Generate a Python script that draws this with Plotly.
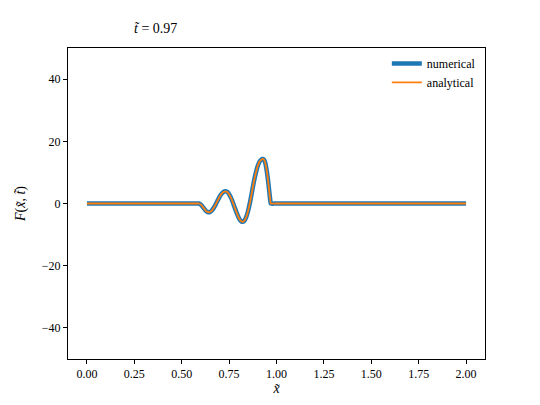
import plotly.graph_objects as go

# position x~ and field F at t~ = 0.97
x_vals = [0.00, 0.50, 0.58, 0.59, 0.60, 0.61, 0.62, 0.63, 0.64, 0.65, 0.66, 0.67,
          0.68, 0.69, 0.70, 0.71, 0.72, 0.73, 0.74, 0.75, 0.76, 0.77, 0.78, 0.79,
          0.80, 0.81, 0.82, 0.83, 0.84, 0.85, 0.86, 0.87, 0.88, 0.89, 0.90, 0.91,
          0.92, 0.925, 0.93, 0.935, 0.94, 0.945, 0.95, 0.955, 0.96, 0.965, 0.968,
          0.97, 1.00, 1.50, 2.00]
f_numerical = [0.0, 0.0, 0.0, 0.0, -0.3, -1.0, -1.8, -2.5, -2.8, -2.7, -2.2, -1.3,
               -0.2, 1.0, 2.2, 3.1, 3.7, 3.9, 3.7, 3.0, 1.8, 0.3, -1.4, -3.0,
               -4.5, -5.5, -5.9, -5.6, -4.4, -2.4, 0.3, 3.5, 6.8, 9.6, 11.9, 13.4,
               14.1, 14.3, 14.3, 14.0, 13.2, 11.8, 9.9, 7.6, 4.9, 2.1, 0.6,
               0.0, 0.0, 0.0, 0.0]
f_analytical = list(f_numerical)

x_ticks = [0.0, 0.25, 0.5, 0.75, 1.0, 1.25, 1.5, 1.75, 2.0]
x_ticktext = ["0.00", "0.25", "0.50", "0.75", "1.00", "1.25", "1.50", "1.75", "2.00"]
y_ticks = [-40, -20, 0, 20, 40]
y_ticktext = ["\u221240", "\u221220", "0", "20", "40"]

FONT = "Liberation Serif"

fig = go.Figure()
fig.add_trace(go.Scatter(x=x_vals, y=f_numerical, mode="lines", name="numerical",
                         line=dict(color="#1f77b4", width=4.5, shape="spline", smoothing=0.6)))
fig.add_trace(go.Scatter(x=x_vals, y=f_analytical, mode="lines", name="analytical",
                         line=dict(color="#ff7f0e", width=1.8, shape="spline", smoothing=0.6)))

axis_common = dict(showgrid=False, zeroline=False, showline=True, linecolor="black",
                   linewidth=1, mirror=True, ticks="outside", ticklen=4, automargin=False,
                   tickcolor="black", tickfont=dict(family=FONT, size=12, color="black"))

fig.update_xaxes(range=[-0.1, 2.1], tickvals=x_ticks, ticktext=x_ticktext,
                 title=dict(text="<i>x\u0303</i>", font=dict(family=FONT, size=14, color="black"),
                            standoff=0),
                 **axis_common)
fig.update_yaxes(range=[-50, 50], tickvals=y_ticks, ticktext=y_ticktext,
                 title=dict(text="<i>F</i>(<i>x\u0303</i>, <i>t\u0303</i>)",
                            font=dict(family=FONT, size=14, color="black"), standoff=12),
                 **axis_common)

fig.add_annotation(text="<i>t\u0303</i> = 0.97", xref="paper", yref="paper",
                   x=0.21, y=1.0, yshift=20, showarrow=False, xanchor="center", yanchor="middle",
                   font=dict(family=FONT, size=14, color="black"))

# page body adds 8px around the figure, so the figure is 16px smaller than the window
fig.update_layout(
    width=524, height=389,
    margin=dict(l=60, r=47, t=40, b=38),
    plot_bgcolor="white", paper_bgcolor="white",
    font=dict(family=FONT, color="black"),
    legend=dict(x=0.99, y=0.997, xanchor="right", yanchor="top",
                bgcolor="rgba(255,255,255,0.8)", borderwidth=0,
                font=dict(family=FONT, size=12, color="black"),
                itemwidth=30, tracegroupgap=0),
)

fig.write_html("out.html")
